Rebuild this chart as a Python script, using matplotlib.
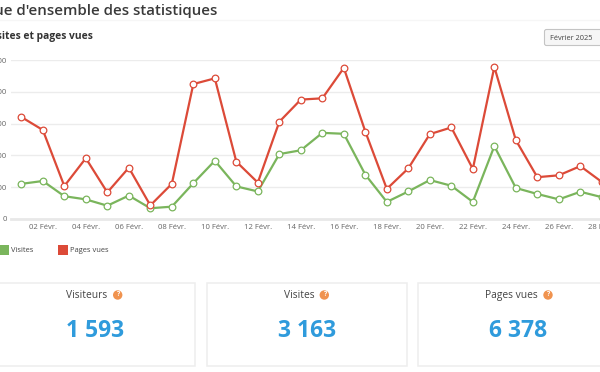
import matplotlib
matplotlib.use('Agg')
import matplotlib.pyplot as plt
from matplotlib.patches import Rectangle, FancyBboxPatch, Circle

plt.rcParams['font.family'] = ['Open Sans', 'DejaVu Sans']

days = list(range(1, 29))
visites = [110, 119, 71, 61, 41, 73, 33, 38, 112, 183, 102, 86, 204, 216,
           271, 268, 139, 53, 86, 122, 104, 53, 229, 97, 78, 61, 85, 68]
pages = [321, 280, 103, 191, 83, 161, 42, 110, 425, 443, 180, 114, 306, 376,
         380, 476, 275, 94, 159, 267, 288, 157, 479, 248, 131, 137, 166, 116]
y_ticks = [0, 100, 200, 300, 400, 500]
x_ticks = list(range(2, 29, 2))
x_labels = ['%02d Févr.' % d for d in x_ticks]
cards = ['Visiteurs', 'Visites', 'Pages vues']
totals = ['1 593', '3 163', '6 378']

GREEN = '#7ab55c'
RED = '#dc4a38'
BLUE = '#2f9bdc'
W, H = 600, 372

fig = plt.figure(figsize=(W/100, H/100), dpi=100)

# page furniture in pixel coordinates
bg = fig.add_axes([0, 0, 1, 1])
bg.set_xlim(0, W)
bg.set_ylim(H, 0)
bg.axis('off')

bg.text(217, 14.5, "Vue d'ensemble des statistiques", ha='right', va='baseline',
        fontsize=10.8, fontweight='semibold', color='#3a3a3a')
bg.plot([0, W], [20, 20], color='#f6f6f6', lw=1)
bg.text(93, 39.5, 'Visites et pages vues', ha='right', va='baseline',
        fontsize=7.4, fontweight='bold', color='#333333')

bg.add_patch(FancyBboxPatch((544.5, 29.5), 70, 16, boxstyle='round,pad=0,rounding_size=2',
                            fc='#f6f6f6', ec='#c4c4c4', lw=0.8))
bg.text(549.5, 38, 'Février 2025', ha='left', va='center', fontsize=5.3, color='#444444')

# legend
bg.add_patch(Rectangle((-1, 245), 10, 10, fc=GREEN, ec='none'))
bg.text(11, 250, 'Visites', ha='left', va='center', fontsize=5.4, color='#444444')
bg.add_patch(Rectangle((58, 245), 9.5, 10, fc=RED, ec='none'))
bg.text(70, 250, 'Pages vues', ha='left', va='center', fontsize=5.4, color='#444444')

# stat cards
boxes = [(-10, 204.5), (206.5, 200.2), (418.3, 200)]
label_x = [87, 299, 511]
icon_x = [117.7, 324.3, 548]
num_x = [94.7, 307, 518]
for i in range(3):
    bg.add_patch(Rectangle((boxes[i][0], 283), boxes[i][1], 82.7, fc='white',
                           ec='#eeeeee', lw=1.1))
    bg.text(label_x[i], 298, cards[i], ha='center', va='baseline', fontsize=7.4, color='#444444')
    bg.add_patch(Circle((icon_x[i], 295), 4.7, fc='#f0934f', ec='none'))
    bg.text(icon_x[i], 295, '?', ha='center', va='center', fontsize=5, fontweight='bold', color='white')
    bg.text(num_x[i], 337.3, totals[i], ha='center', va='baseline', fontsize=16.5,
            fontweight='bold', color=BLUE)

# chart, axes run past the right edge of the picture like the crop does
ax = fig.add_axes([11/W, 1 - 218.7/H, 599/W, 158.4/H])
ax.patch.set_alpha(0)
ax.set_xlim(0.52, 28.38)
ax.set_ylim(0, 500)
for s in ax.spines.values():
    s.set_visible(False)
ax.set_yticks(y_ticks)
ax.set_yticklabels([str(v) for v in y_ticks], fontsize=5.6, color='#666666')
ax.set_xticks(x_ticks)
ax.set_xticklabels(x_labels, fontsize=5.6, color='#666666')
ax.tick_params(length=0)
ax.tick_params(axis='x', pad=4)
ax.tick_params(axis='y', pad=3)
ax.grid(axis='y', color='#ececec', lw=1)
ax.set_axisbelow(True)
ax.axhline(0, color='#e8e8e8', lw=2, zorder=1, clip_on=False)

ax.plot(days, visites, color=GREEN, lw=1.6, marker='o', ms=4.8, mfc='white', mew=0.9, zorder=3)
ax.plot(days, pages, color=RED, lw=1.6, marker='o', ms=4.8, mfc='white', mew=0.9, zorder=4)

fig.savefig('out.png', dpi=100)
